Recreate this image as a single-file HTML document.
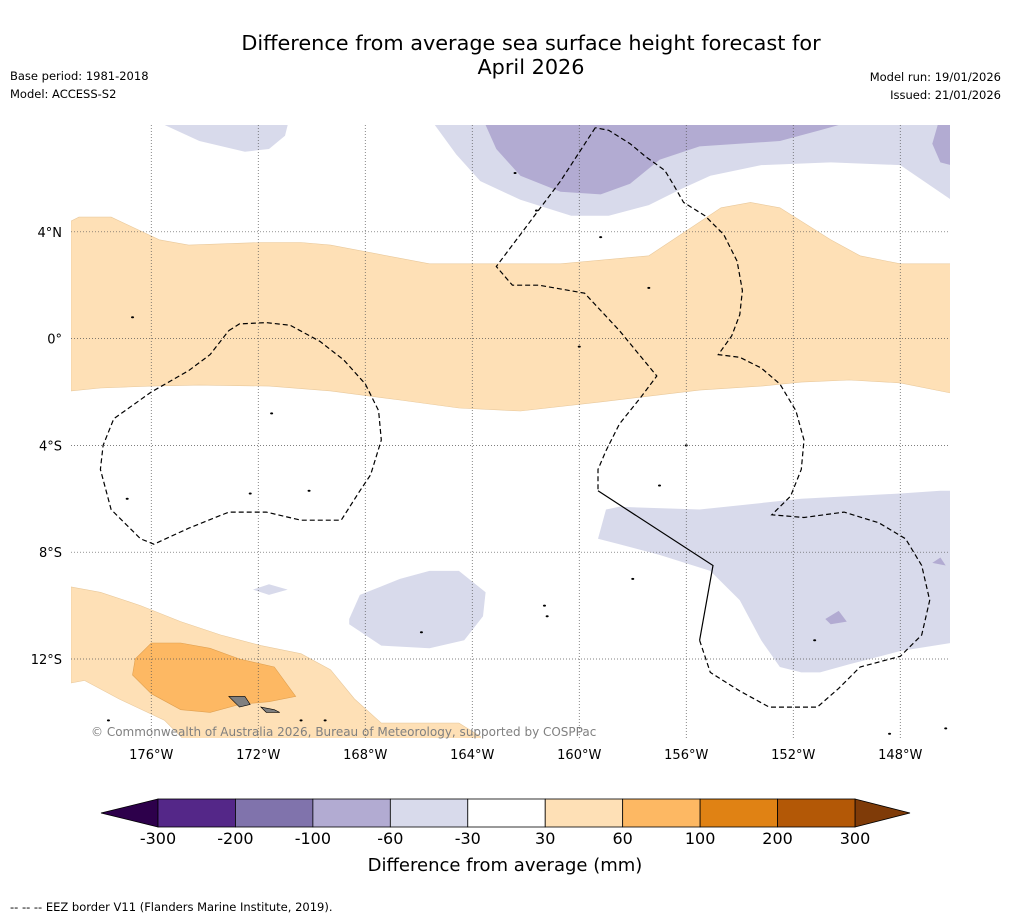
<!DOCTYPE html>
<html><head><meta charset="utf-8"><style>
body{margin:0;background:#fff;width:1011px;height:919px;overflow:hidden;font-family:"Liberation Sans","DejaVu Sans",sans-serif;}
svg text{font-family:"DejaVu Sans","Liberation Sans",sans-serif;}
</style></head><body>
<svg id="chart" width="1011" height="919" xmlns="http://www.w3.org/2000/svg">
<rect width="1011" height="919" fill="#fff"/>
<text x="531" y="50" font-size="20.8" text-anchor="middle">Difference from average sea surface height forecast for</text>
<text x="531" y="74" font-size="20.8" text-anchor="middle">April 2026</text>
<text x="10" y="80" font-size="11.5">Base period: 1981-2018</text>
<text x="10" y="98" font-size="11.5">Model: ACCESS-S2</text>
<text x="1001" y="81" font-size="11.5" text-anchor="end">Model run: 19/01/2026</text>
<text x="1001" y="99" font-size="11.5" text-anchor="end">Issued: 21/01/2026</text>
<defs><clipPath id="mapclip"><rect x="71" y="125" width="879" height="613"/></clipPath></defs>
<g id="map" clip-path="url(#mapclip)"></g>
<g id="grid"></g>
<g id="eez" clip-path="url(#mapclip)"></g>
<text x="91" y="736" font-size="12" fill="#808080">© Commonwealth of Australia 2026, Bureau of Meteorology, supported by COSPPac</text>
<g id="axes"></g>
<g id="cbar"></g>
<text x="505" y="871" font-size="18" text-anchor="middle">Difference from average (mm)</text>
<text x="10" y="911" font-size="11.5">--  --  -- EEZ border V11 (Flanders Marine Institute, 2019).</text>
</svg>
<script>
const lonTicks=[-176,-172,-168,-164,-160,-156,-152,-148];
const latTicks=[4,0,-4,-8,-12];
const cbarLevels=[-300,-200,-100,-60,-30,30,60,100,200,300];
const cbarColors=["#542788","#8073ac","#b2abd2","#d8daeb","#ffffff","#fee0b6","#fdb863","#e08214","#b35806"];
const cbarLow="#2d004b", cbarHigh="#7f3b08";
const orangeBand=[[-179,4.4],[-178.7,4.55],[-177.5,4.55],[-175.7,3.7],[-174.6,3.5],[-171.9,3.6],[-170.4,3.6],[-169.3,3.5],[-165.6,2.8],[-160.7,2.8],[-157.4,3.1],[-156.2,3.9],[-154.7,4.9],[-153.6,5.1],[-152.5,4.9],[-150.6,3.7],[-149.5,3.1],[-148,2.8],[-146.1,2.8],[-146.1,-2.04],[-148,-1.66],[-149.9,-1.55],[-151.7,-1.63],[-153.2,-1.78],[-155.5,-1.93],[-159.2,-2.37],[-162.2,-2.71],[-164.5,-2.6],[-166.7,-2.3],[-169.3,-1.96],[-171.6,-1.78],[-174.2,-1.74],[-176,-1.78],[-177.9,-1.85],[-179,-1.96]];
const topLight=[[-165.4,8],[-164.6,6.9],[-163.7,5.9],[-162.2,5.2],[-160.3,4.6],[-158.9,4.6],[-157.4,5.0],[-156.2,5.6],[-155.1,6.1],[-153.2,6.5],[-150.6,6.6],[-148,6.5],[-146.1,5.2],[-146.1,8]];
const topDark=[[-163.5,8],[-163.1,7.1],[-162.2,6.1],[-160.7,5.5],[-159.2,5.4],[-158.1,5.8],[-157,6.7],[-155.5,7.2],[-152.5,7.4],[-151,7.8],[-150.3,8]];
const topRightDark=[[-146.6,8],[-146.8,7.3],[-146.5,6.6],[-146.1,6.5],[-146.1,8]];
const topLeftLight=[[-175.5,8],[-174.2,7.4],[-172.5,7.0],[-171.6,7.1],[-171.0,7.6],[-170.9,8]];
const rightLight=[[-159.0,-6.4],[-158.5,-6.3],[-155.5,-6.4],[-151.7,-6.0],[-148,-5.8],[-146.5,-5.7],[-146.1,-5.7],[-146.1,-11.4],[-148,-11.7],[-149.9,-12.2],[-151,-12.5],[-151.7,-12.5],[-152.5,-12.3],[-153.2,-11.3],[-154.0,-9.8],[-155.1,-8.7],[-157.0,-8.1],[-158.5,-7.7],[-159.3,-7.5]];
const midLight=[[-168.6,-10.5],[-168.2,-9.6],[-166.7,-9.0],[-165.6,-8.7],[-164.5,-8.7],[-163.5,-9.5],[-163.6,-10.4],[-164.3,-11.3],[-165.6,-11.6],[-167.4,-11.5],[-168.6,-10.7]];
const smallLight=[[-172.2,-9.4],[-171.6,-9.2],[-170.9,-9.4],[-171.6,-9.6]];
const patchA=[[-150.8,-10.5],[-150.3,-10.2],[-150.0,-10.6],[-150.6,-10.7]];
const patchB=[[-146.8,-8.4],[-146.5,-8.2],[-146.3,-8.5]];
const blOrange=[[-179,-9.3],[-177.9,-9.5],[-176.4,-10.0],[-174.9,-10.6],[-173.4,-11.1],[-171.9,-11.5],[-170.4,-11.8],[-169.3,-12.4],[-168.4,-13.5],[-167.4,-14.4],[-165.9,-14.4],[-164.5,-14.4],[-163.7,-14.9],[-163.7,-15.2],[-174.6,-15.2],[-175.5,-14.3],[-177.2,-13.5],[-178.5,-12.8],[-179,-12.9]];
const blDark=[[-176.6,-12.0],[-176.0,-11.4],[-174.9,-11.4],[-173.8,-11.6],[-172.7,-12.0],[-171.4,-12.3],[-170.6,-13.4],[-171.6,-13.6],[-172.7,-13.7],[-173.8,-14.0],[-174.9,-13.9],[-176.0,-13.3],[-176.7,-12.6]];
const islandA=[[-173.1,-13.4],[-172.5,-13.4],[-172.3,-13.7],[-172.7,-13.8]];
const islandB=[[-171.9,-13.8],[-171.4,-13.9],[-171.2,-14.0],[-171.7,-14.0]];
const eezLeft=[[-173.1,0.3],[-172.7,0.55],[-171.7,0.6],[-170.8,0.5],[-169.7,-0.1],[-168.8,-0.8],[-168.0,-1.7],[-167.5,-2.7],[-167.4,-3.8],[-167.8,-5.1],[-168.2,-5.7],[-168.9,-6.8],[-170.4,-6.8],[-171.7,-6.5],[-173.1,-6.5],[-174.6,-7.1],[-175.9,-7.7],[-176.4,-7.5],[-177.5,-6.4],[-177.9,-4.9],[-177.8,-4.0],[-177.4,-3.0],[-176.0,-2.0],[-174.6,-1.2],[-173.8,-0.6],[-173.1,0.3]];
const eezLine=[[-159.4,7.9],[-160.7,5.9],[-162.2,3.9],[-163.1,2.7],[-162.5,2.0],[-161.5,2.0],[-159.8,1.7],[-158.5,0.3],[-157.1,-1.4],[-157.7,-2.2],[-158.5,-3.2],[-159.0,-4.2],[-159.3,-4.9],[-159.3,-5.7]];
const eezSolid=[[-159.3,-5.7],[-155.0,-8.5],[-155.5,-11.3]];
const eezRight=[[-155.5,-11.3],[-155.1,-12.5],[-154.0,-13.2],[-152.9,-13.8],[-151.1,-13.8],[-150.3,-13.1],[-149.5,-12.3],[-148.0,-11.9],[-147.2,-11.1],[-146.9,-9.8],[-147.2,-8.5],[-147.8,-7.5],[-148.8,-6.9],[-150.1,-6.5],[-151.6,-6.7],[-152.8,-6.6],[-152.1,-5.9],[-151.7,-4.9],[-151.6,-3.8],[-151.9,-2.7],[-152.5,-1.7],[-153.2,-1.1],[-154.0,-0.7],[-154.8,-0.6],[-154.3,0.1],[-154.0,0.9],[-153.9,1.8],[-154.1,2.9],[-154.6,3.9],[-155.3,4.6],[-156.1,5.1],[-156.5,5.8],[-156.8,6.3],[-157.5,6.8],[-158.1,7.3],[-158.9,7.8],[-159.4,7.9]];
const dots=[[-176.9,-6.0],[-172.3,-5.8],[-170.1,-5.7],[-171.5,-2.8],[-156.0,-4.0],[-157.0,-5.5],[-158.0,-9.0],[-161.3,-10.0],[-161.2,-10.4],[-165.9,-11.0],[-157.4,1.9],[-159.2,3.8],[-161.6,4.8],[-162.4,6.2],[-176.7,0.8],[-160.0,-0.3],[-151.2,-11.3],[-177.6,-14.3],[-170.4,-14.3],[-169.5,-14.3],[-148.4,-14.8],[-146.3,-14.6]];

const SVGNS="http://www.w3.org/2000/svg";
const X=lon=>71+(lon+179)*26.75;
const Y=lat=>125+(8-lat)*26.7;
const pts=a=>a.map(p=>X(p[0]).toFixed(1)+","+Y(p[1]).toFixed(1)).join(" ");
function mk(tag,attrs,parent){const e=document.createElementNS(SVGNS,tag);for(const k in attrs)e.setAttribute(k,attrs[k]);parent.appendChild(e);return e;}
const map=document.getElementById('map');
function poly(arr,fill,name,stroke){
  const e=mk('polygon',{points:pts(arr),fill:fill,stroke:stroke||'none','stroke-width':0.6},map);
  
  
}
poly(orangeBand,"#fee0b6","positive-anomaly-band","#e9c99c");
poly(topLight,"#d8daeb","negative-anomaly-north","none");
poly(topDark,"#b2abd2","strong-negative-anomaly-north","none");
poly(topRightDark,"#b2abd2","strong-negative-anomaly-northeast","none");
poly(topLeftLight,"#d8daeb","negative-anomaly-northwest","none");
poly(rightLight,"#d8daeb","negative-anomaly-southeast","none");
poly(midLight,"#d8daeb","negative-anomaly-central","none");
poly(smallLight,"#d8daeb","negative-anomaly-small","none");
poly(patchA,"#b2abd2","strong-negative-patch-a","none");
poly(patchB,"#b2abd2","strong-negative-patch-b","none");
poly(blOrange,"#fee0b6","positive-anomaly-southwest","#e9c99c");
poly(blDark,"#fdb863","high-positive-anomaly-southwest","#e0a050");
poly(islandA,"#808080","island-upolu","#000");
poly(islandB,"#808080","island-tutuila","#000");
dots.forEach(d=>{
  const e=mk('ellipse',{cx:X(d[0]),cy:Y(d[1]),rx:1.5,ry:1,fill:'#000'},map);
  
  
});
const grid=document.getElementById('grid'), axes=document.getElementById('axes');
lonTicks.forEach(l=>{
  const e=mk('line',{x1:X(l),x2:X(l),y1:125,y2:738,stroke:'#555','stroke-width':0.7,'stroke-dasharray':'1,2'},grid);
  
  
  const t=mk('text',{x:X(l),y:759,'font-size':13,'text-anchor':'middle'},axes);
  t.textContent=Math.abs(l)+"°W";
  
  
});
latTicks.forEach(l=>{
  const e=mk('line',{x1:71,x2:950,y1:Y(l),y2:Y(l),stroke:'#555','stroke-width':0.7,'stroke-dasharray':'1,2'},grid);
  
  
  const t=mk('text',{x:62,y:Y(l)+5,'font-size':13,'text-anchor':'end'},axes);
  t.textContent=l===0?"0°":Math.abs(l)+"°"+(l>0?"N":"S");
  
  
});
const eez=document.getElementById('eez');
[[eezLeft,true],[eezLine,true],[eezSolid,false],[eezRight,true]].forEach(([a,dash])=>{
  const e=mk('polyline',{points:pts(a),fill:'none',stroke:'#000','stroke-width':1.2,'stroke-dasharray':dash?'5,3':'none'},eez);
  
  
});
const cb=document.getElementById('cbar');
const cx0=158,cx1=855,cy0=799,cy1=827;
const CX=i=>cx0+(cx1-cx0)*i/(cbarLevels.length-1);
const lowT=mk('polygon',{points:`${cx0},${cy0} 101,${(cy0+cy1)/2} ${cx0},${cy1}`,fill:cbarLow,stroke:'#000','stroke-width':0.8},cb);


const hiT=mk('polygon',{points:`${cx1},${cy0} 910,${(cy0+cy1)/2} ${cx1},${cy1}`,fill:cbarHigh,stroke:'#000','stroke-width':0.8},cb);


cbarColors.forEach((c,i)=>{
  const r=mk('rect',{x:CX(i),y:cy0,width:CX(i+1)-CX(i),height:cy1-cy0,fill:c,stroke:'#000','stroke-width':0.8},cb);
  
  
});
cbarLevels.forEach((v,i)=>{
  const t=mk('text',{x:CX(i),y:844,'font-size':16,'text-anchor':'middle'},cb);
  t.textContent=v;
  
  
});
</script>
</body></html>
